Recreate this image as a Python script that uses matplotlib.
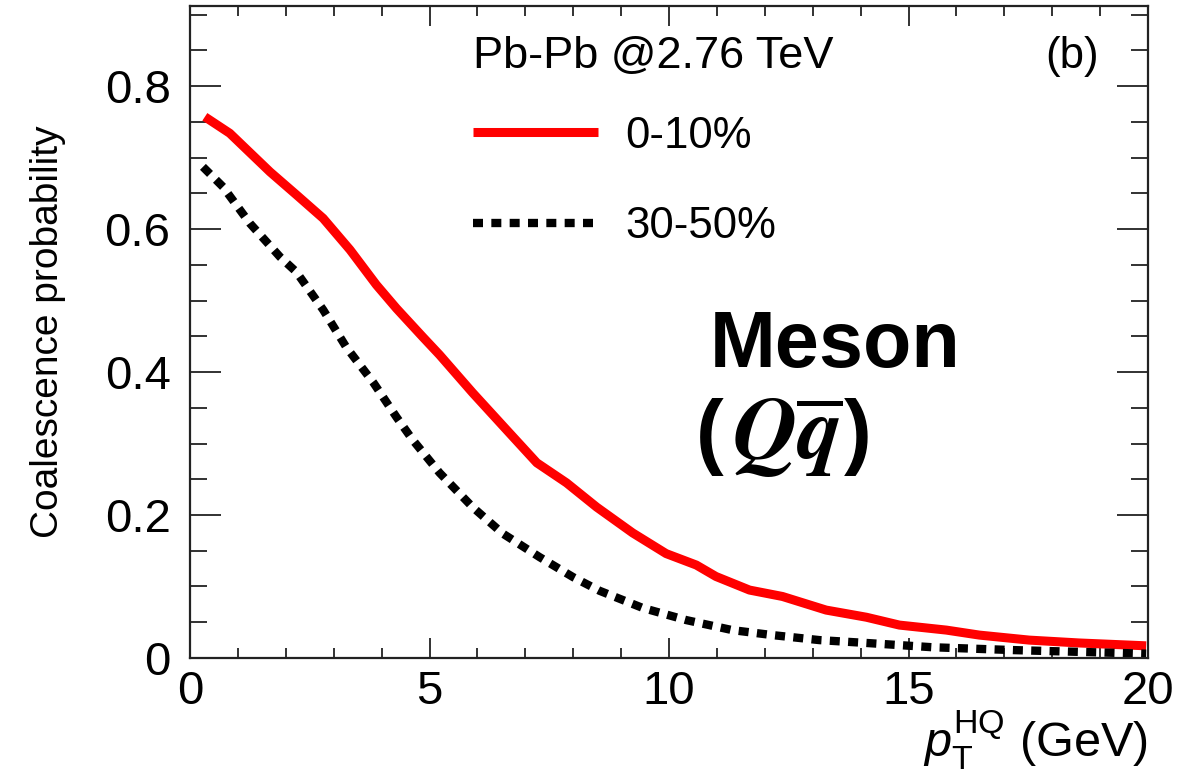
import matplotlib
matplotlib.use("Agg")
import matplotlib.pyplot as plt
from matplotlib.ticker import MultipleLocator

plt.rcParams['font.family'] = ['Liberation Sans', 'DejaVu Sans']
plt.rcParams['mathtext.fontset'] = 'custom'
plt.rcParams['mathtext.rm'] = 'Liberation Sans'
plt.rcParams['mathtext.it'] = 'Liberation Sans:italic'
plt.rcParams['mathtext.bf'] = 'Liberation Sans:bold'

# 0-10% centrality (red solid)
pt_central = [0.31, 0.83, 1.67, 2.22, 2.78, 3.34, 3.89, 4.31, 4.86, 5.21, 5.90, 6.61,
              7.24, 7.86, 8.49, 9.24, 9.94, 10.57, 10.98, 11.68, 12.37, 13.28,
              14.12, 14.81, 15.79, 16.48, 17.52, 18.56, 19.96]
prob_central = [0.757, 0.734, 0.680, 0.648, 0.615, 0.571, 0.522, 0.489, 0.449, 0.424, 0.371, 0.319,
                0.273, 0.245, 0.211, 0.175, 0.146, 0.130, 0.114, 0.095, 0.086, 0.067,
                0.057, 0.046, 0.039, 0.032, 0.025, 0.021, 0.017]

# 30-50% centrality (black dashed)
pt_periph = [0.27, 0.69, 1.25, 1.88, 2.22, 2.78, 3.26, 3.83, 4.31, 4.65, 5.21, 5.90,
             6.53, 7.30, 8.00, 8.55, 9.45, 10.36, 11.32, 12.16, 13.14, 14.12, 15.5,
             17.2, 19.96]
prob_periph = [0.687, 0.659, 0.608, 0.561, 0.540, 0.487, 0.435, 0.385, 0.337, 0.305, 0.259, 0.211,
               0.174, 0.141, 0.113, 0.094, 0.070, 0.053, 0.039, 0.032, 0.025, 0.021, 0.015,
               0.011, 0.006]

fig = plt.figure(figsize=(11.98, 7.82), dpi=100)
ax = fig.add_axes([0.1586, 0.1586, 0.7997, 0.8337])

ax.plot(pt_central, prob_central, color='#ff0000', lw=6.5, solid_capstyle='butt',
        label='0-10%')
ax.plot(pt_periph, prob_periph, color='black', lw=6, dashes=(1.2, 1.0),
        label='30-50%')

ax.set_xlim(0, 20)
ax.set_ylim(0, 0.912)
ax.xaxis.set_minor_locator(MultipleLocator(1))
ax.yaxis.set_minor_locator(MultipleLocator(0.05))
ax.set_xticks([0, 5, 10, 15, 20])
ax.set_xticklabels(['0', '5', '10', '15', '20'])
ax.set_yticks([0, 0.2, 0.4, 0.6, 0.8])
ax.set_yticklabels(['0', '0.2', '0.4', '0.6', '0.8'])

ax.tick_params(axis='both', which='both', direction='in', top=True, right=True,
               width=1.3, color='#222222')
ax.tick_params(axis='x', which='major', length=14.5, labelsize=34, pad=9)
ax.tick_params(axis='x', which='minor', length=7.5)
ax.tick_params(axis='y', which='major', length=22, labelsize=34, pad=14)
ax.tick_params(axis='y', which='minor', length=12)
for s in ax.spines.values():
    s.set_linewidth(1.6)
    s.set_color('#222222')

ax.set_ylabel('Coalescence probability', fontsize=28, labelpad=28)
ax.set_xlabel(r'$p_{\mathrm{T}}^{\mathrm{HQ}}$ (GeV)', fontsize=35, loc='right',
              labelpad=-4)

leg = ax.legend(loc='upper left', bbox_to_anchor=(0.2954, 0.832), frameon=False,
                fontsize=31.5, handlelength=2.86, handletextpad=0.62,
                labelspacing=1.14, borderaxespad=0, borderpad=0)

ax.text(0.2954, 0.923, 'Pb-Pb @2.76 TeV', transform=ax.transAxes, fontsize=32.5,
        ha='left', va='center')
ax.text(0.921, 0.923, '(b)', transform=ax.transAxes, fontsize=31.5, ha='center', va='center')

ax.text(0.542, 0.447, 'Meson', transform=ax.transAxes, fontsize=57, fontweight='bold',
        ha='left', va='baseline')
ax.text(0.528, 0.305, '(', transform=ax.transAxes, fontsize=60, fontweight='bold',
        ha='left', va='baseline')
ax.text(0.566, 0.305, r'$\boldsymbol{Q}\overline{\boldsymbol{q}}$', transform=ax.transAxes,
        fontsize=64, ha='left', va='baseline', math_fontfamily='stix')
ax.text(0.683, 0.305, ')', transform=ax.transAxes, fontsize=60, fontweight='bold',
        ha='left', va='baseline')

fig.savefig('out.png', dpi=100)
